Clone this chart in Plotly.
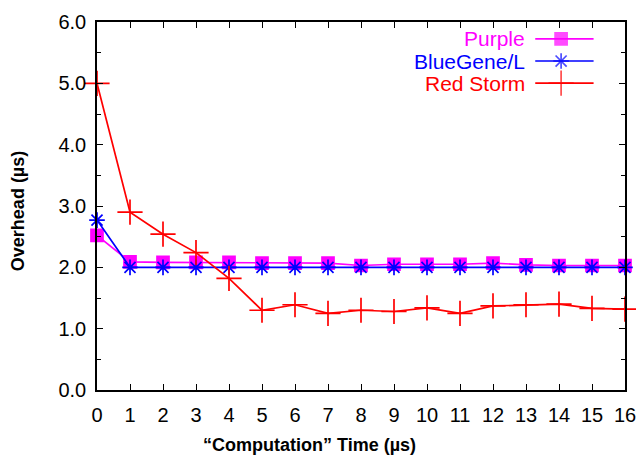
import plotly.graph_objects as go

# Computation time (µs)
comp_time = list(range(17))

# Overhead (µs) per machine
purple = [2.52, 2.09, 2.08, 2.08, 2.08, 2.07, 2.07, 2.07, 2.03, 2.05, 2.05, 2.05, 2.07, 2.04, 2.03, 2.03, 2.03]
bluegene = [2.77, 2.00, 2.00, 2.00, 2.00, 2.00, 2.00, 2.00, 2.00, 2.00, 2.00, 2.00, 2.00, 2.00, 2.00, 2.00, 2.00]
red_storm = [5.00, 2.90, 2.54, 2.24, 1.82, 1.30, 1.39, 1.25, 1.30, 1.28, 1.34, 1.25, 1.37, 1.39, 1.40, 1.33, 1.32]

series_names = ["Purple", "BlueGene/L", "Red Storm"]
series_data = [purple, bluegene, red_storm]
colors = ["#FF00FF", "#0000FF", "#FF0000"]
symbols = ["square", "asterisk-open", "cross-thin-open"]
sizes = [12, 13, 18]

FONT = "Liberation Sans, Arial, sans-serif"

fig = go.Figure()

for name, ys, c, sym, sz in zip(series_names, series_data, colors, symbols, sizes):
    fig.add_trace(go.Scatter(
        x=comp_time, y=ys, mode="lines+markers", name=name,
        line=dict(color=c, width=1.7),
        marker=dict(symbol=sym, size=sz, color=c, line=dict(color=c, width=1.7)),
        showlegend=False, cliponaxis=False,
    ))

# Key: text on the left, line sample with marker on the right
key_y = [0.954, 0.894, 0.834]
for name, c, sym, sz, ky in zip(series_names, colors, symbols, sizes, key_y):
    fig.add_annotation(x=0.814, y=ky, xref="paper", yref="paper", text=name,
                       showarrow=False, xanchor="right", yanchor="middle",
                       font=dict(family=FONT, size=21, color=c))
    fig.add_trace(go.Scatter(
        x=[0.830, 0.879, 0.9405], y=[ky, ky, ky], xaxis="x2", yaxis="y2",
        mode="lines+markers", line=dict(color=c, width=1.7),
        marker=dict(symbol=sym, size=[0, sz, 0], color=c, line=dict(color=c, width=1.7)),
        showlegend=False, hoverinfo="skip", cliponaxis=False,
    ))

# Axis titles
fig.add_annotation(x=0.4025, y=-0.1495, xref="paper", yref="paper",
                   text="<b>“Computation” Time (µs)</b>", showarrow=False,
                   xanchor="center", yanchor="middle",
                   font=dict(family=FONT, size=18, color="black"))
fig.add_annotation(x=-0.1496, y=0.486, xref="paper", yref="paper",
                   text="<b>Overhead (µs)</b>", showarrow=False, textangle=-90,
                   xanchor="center", yanchor="middle",
                   font=dict(family=FONT, size=18, color="black"))

axis_common = dict(
    showline=True, linecolor="black", linewidth=1.5, mirror="ticks",
    ticks="inside", ticklen=6, tickcolor="black", tickwidth=1,
    showgrid=False, zeroline=False, automargin=False,
    ticklabeloverflow="allow",
    tickfont=dict(family=FONT, size=20, color="black"),
)

fig.update_layout(
    width=636, height=458,
    margin=dict(l=97, r=11, t=22, b=68),
    paper_bgcolor="white", plot_bgcolor="white",
    xaxis=dict(range=[0, 16], dtick=1, tick0=0, ticklabelstandoff=6, **axis_common),
    yaxis=dict(range=[0, 6], dtick=1, tickformat=".1f", ticklabelstandoff=5,
               minor=dict(dtick=0.5, ticks="inside", ticklen=4, tickcolor="black"),
               **axis_common),
    xaxis2=dict(overlaying="x", range=[0, 1], visible=False, domain=[0, 1], anchor="y2"),
    yaxis2=dict(overlaying="y", range=[0, 1], visible=False, anchor="x2"),
)

fig.write_html("out.html")
